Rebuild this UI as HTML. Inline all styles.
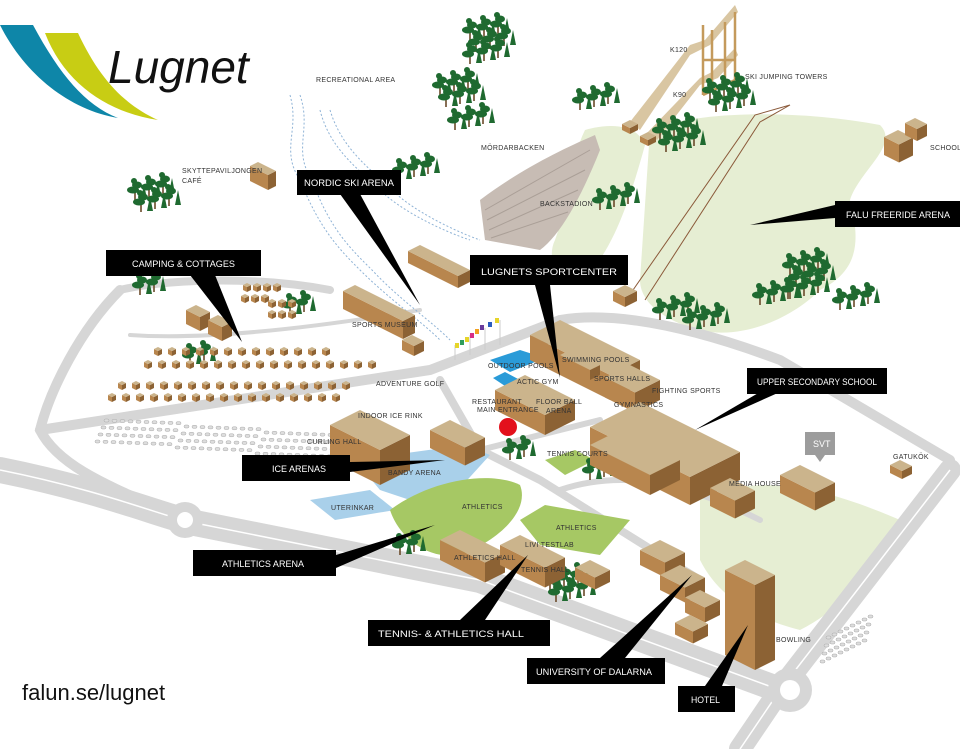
<!DOCTYPE html>
<html><head><meta charset="utf-8"><style>
html,body{margin:0;padding:0;background:#fff;width:960px;height:749px;overflow:hidden}
svg{display:block}
.l{font-family:"Liberation Sans",sans-serif;font-size:7px;fill:#333;letter-spacing:.3px}
.b{font-family:"Liberation Sans",sans-serif;font-size:9px;fill:#fff}
</style></head><body>
<svg id="s" width="960" height="749" viewBox="0 0 960 749" xmlns="http://www.w3.org/2000/svg">
<path d="M0,25 L33,25 C60,75 85,105 118,118 C70,110 25,75 0,25Z" fill="#0e86a8"/>
<path d="M45,33 L78,33 C100,80 125,105 158,120 C110,113 65,85 45,33Z" fill="#c8cd14"/>
<text x="108" y="83" font-family="Liberation Sans,sans-serif" font-style="italic" font-size="46" fill="#111">Lugnet</text>
<text x="22" y="700" font-family="Liberation Sans,sans-serif" font-size="22" fill="#111">falun.se/lugnet</text>

<path d="M650,130 C700,110 800,110 880,125 C900,145 860,170 850,200 C860,240 860,270 820,290 C790,320 740,340 700,330 C660,320 640,300 640,280 Z" fill="#e6eed3"/>
<path d="M585,130 C620,120 640,130 645,145 C630,200 610,260 580,280 C560,290 545,260 555,240 C570,200 570,160 585,130Z" fill="#e6eed3"/>
<path d="M700,500 C760,470 830,490 900,520 C880,570 840,610 800,630 C760,620 720,600 700,560Z" fill="#e6eed3"/>
<path d="M480,200 C520,170 560,150 595,135 L600,150 C580,200 560,235 540,250 L485,240Z" fill="#c7bcb4"/>
<g stroke="#aa9f97" stroke-width="1">
<line x1="485" y1="210" x2="590" y2="150"/><line x1="487" y1="220" x2="585" y2="170"/><line x1="489" y1="230" x2="578" y2="190"/><line x1="491" y1="238" x2="568" y2="212"/></g>

<g fill="none" stroke="#d6d6d6" stroke-linecap="round">
<path d="M0,470 C100,490 160,515 190,522 L480,580 L780,690" stroke-width="26"/>
<path d="M950,470 L780,690 L740,749" stroke-width="22"/>
<path d="M120,290 C80,330 50,390 40,430 C60,470 120,490 190,522" stroke-width="10"/>
<path d="M120,290 C160,280 250,275 330,290" stroke-width="8"/>
<path d="M40,430 L430,370 L560,320 C620,310 700,330 780,360 L950,460" stroke-width="10"/>
<path d="M440,380 L480,450 L540,480 L620,530 L700,580" stroke-width="8"/>
<path d="M480,450 L600,420" stroke-width="6"/>
<path d="M190,522 C250,540 330,560 420,575" stroke-width="6"/>
<path d="M560,490 C620,470 680,480 760,520" stroke-width="6"/>
<path d="M130,335 C200,340 300,330 420,310" stroke-width="4"/>
</g>
<g fill="none" stroke="#fff" stroke-width="1.5">
<path d="M0,470 C100,490 160,515 190,522 L480,580 L780,690"/>
<path d="M950,470 L780,690 L740,749"/>
</g>
<circle cx="185" cy="520" r="18" fill="#d6d6d6"/><circle cx="185" cy="520" r="8" fill="#fff"/>
<circle cx="790" cy="690" r="22" fill="#d6d6d6"/><circle cx="790" cy="690" r="10" fill="#fff"/>

<g fill="none" stroke="#8fb3d6" stroke-width="1" stroke-dasharray="2,2">
<path d="M290,95 C300,130 280,150 300,180 C320,230 340,250 360,270 C390,300 420,320 440,340"/>
<path d="M300,95 C312,130 292,150 312,180 C330,230 352,250 372,270 C400,300 430,320 450,340"/>
<path d="M320,110 C330,150 360,170 380,190 C400,210 440,230 470,240"/>
<path d="M330,110 C342,150 372,170 392,190 C412,210 452,230 480,240"/>
</g>

<polygon points="355,460 465,445 490,455 440,510 380,490" fill="#a9d0ea"/>
<polygon points="310,500 370,490 395,510 335,520" fill="#a9d0ea"/>
<path d="M390,510 C430,480 490,470 520,485 C530,510 500,540 460,555 C430,560 400,540 390,510Z" fill="#a6c864"/>
<polygon points="520,520 545,505 630,520 600,555 540,545" fill="#a6c864"/>
<polygon points="545,460 575,450 595,460 565,475" fill="#a6c864"/>
<polygon points="490,360 520,350 545,358 510,372" fill="#2a9bd8"/>
<polygon points="493,378 505,372 520,380 505,386" fill="#2a9bd8"/>
<g id="ski"></g>
<g id="items"></g>

<g stroke="#ccc" stroke-width="1">
<line x1="455" y1="345" x2="455" y2="360"/><line x1="470" y1="335" x2="470" y2="355"/><line x1="485" y1="328" x2="485" y2="350"/><line x1="500" y1="320" x2="500" y2="345"/></g>
<g><rect x="455" y="343" width="4" height="5" fill="#e6d52a"/><rect x="460" y="340" width="4" height="5" fill="#2f9c5d"/><rect x="465" y="337" width="4" height="5" fill="#e6d52a"/><rect x="470" y="333" width="4" height="5" fill="#d62f85"/><rect x="475" y="329" width="4" height="5" fill="#f2a21e"/><rect x="480" y="325" width="4" height="5" fill="#6a3b9c"/><rect x="488" y="322" width="4" height="5" fill="#2a5cbf"/><rect x="495" y="318" width="4" height="5" fill="#e6d52a"/></g>
<circle cx="508" cy="427" r="9" fill="#e3101c"/>

<text class="l" x="316" y="82" font-size="8">RECREATIONAL AREA</text>
<text class="l" x="182" y="173">SKYTTEPAVILJONGEN</text><text class="l" x="182" y="183">CAFÉ</text>
<text class="l" x="670" y="52">K120</text><text class="l" x="673" y="97">K90</text>
<text class="l" x="745" y="79">SKI JUMPING TOWERS</text>
<text class="l" x="481" y="150">MÖRDARBACKEN</text>
<text class="l" x="540" y="206">BACKSTADION</text>
<text class="l" x="930" y="150">SCHOOL</text>
<text class="l" x="352" y="327">SPORTS MUSEUM</text>
<text class="l" x="488" y="368">OUTDOOR POOLS</text>
<text class="l" x="517" y="384">ACTIC GYM</text>
<text class="l" x="562" y="362">SWIMMING POOLS</text>
<text class="l" x="594" y="381">SPORTS HALLS</text>
<text class="l" x="652" y="393">FIGHTING SPORTS</text>
<text class="l" x="614" y="407">GYMNASTICS</text>
<text class="l" x="376" y="386">ADVENTURE GOLF</text>
<text class="l" x="472" y="404">RESTAURANT</text><text class="l" x="477" y="412">MAIN ENTRANCE</text>
<text class="l" x="536" y="404">FLOOR BALL</text><text class="l" x="546" y="413">ARENA</text>
<text class="l" x="358" y="418">INDOOR ICE RINK</text>
<text class="l" x="307" y="444">CURLING HALL</text>
<text class="l" x="388" y="475">BANDY ARENA</text>
<text class="l" x="547" y="456">TENNIS COURTS</text>
<text class="l" x="331" y="510">UTERINKAR</text>
<text class="l" x="462" y="509">ATHLETICS</text>
<text class="l" x="556" y="530">ATHLETICS</text>
<text class="l" x="525" y="547">LIVI TESTLAB</text>
<text class="l" x="454" y="560">ATHLETICS HALL</text>
<text class="l" x="521" y="572">TENNIS HALL</text>
<text class="l" x="729" y="486">MEDIA HOUSE</text>
<text class="l" x="893" y="459">GATUKÖK</text>
<text class="l" x="776" y="642">BOWLING</text>

<polygon points="805,432 835,432 835,455 825,455 820,462 815,455 805,455" fill="#9c9c9c"/>
<text x="813" y="447" font-family="Liberation Sans,sans-serif" font-size="9" fill="#fff">SVT</text>

<g fill="#000">
<polygon points="340,194 360,194 420,305"/><rect x="297" y="170" width="104" height="25"/>
<polygon points="190,275 215,275 242,342"/><rect x="106" y="250" width="155" height="26"/>
<polygon points="535,285 550,285 560,378"/><rect x="470" y="255" width="158" height="30"/>
<polygon points="835,205 835,218 750,225"/><rect x="835" y="201" width="125" height="26"/>
<polygon points="760,392 780,392 695,430"/><rect x="747" y="368" width="140" height="26"/>
<polygon points="350,462 350,472 445,460"/><rect x="242" y="455" width="108" height="26"/>
<polygon points="336,555 336,568 435,525"/><rect x="193" y="550" width="143" height="26"/>
<polygon points="460,620 485,620 528,555"/><rect x="368" y="620" width="182" height="26"/>
<polygon points="600,658 625,658 692,575"/><rect x="527" y="658" width="138" height="26"/>
<polygon points="705,686 722,686 748,625"/><rect x="678" y="686" width="57" height="26"/>
</g>
<text class="b" x="304" y="186" textLength="90" lengthAdjust="spacingAndGlyphs">NORDIC SKI ARENA</text>
<text class="b" x="132" y="267" textLength="103" lengthAdjust="spacingAndGlyphs">CAMPING &amp; COTTAGES</text>
<text class="b" x="481" y="275" font-size="11" textLength="136" lengthAdjust="spacingAndGlyphs">LUGNETS SPORTCENTER</text>
<text class="b" x="846" y="218" textLength="104" lengthAdjust="spacingAndGlyphs">FALU FREERIDE ARENA</text>
<text class="b" x="757" y="385" textLength="120" lengthAdjust="spacingAndGlyphs">UPPER SECONDARY SCHOOL</text>
<text class="b" x="272" y="472" textLength="54" lengthAdjust="spacingAndGlyphs">ICE ARENAS</text>
<text class="b" x="222" y="567" textLength="82" lengthAdjust="spacingAndGlyphs">ATHLETICS ARENA</text>
<text class="b" x="378" y="637" textLength="146" lengthAdjust="spacingAndGlyphs">TENNIS- &amp; ATHLETICS HALL</text>
<text class="b" x="536" y="675" textLength="116" lengthAdjust="spacingAndGlyphs">UNIVERSITY OF DALARNA</text>
<text class="b" x="691" y="703" textLength="29" lengthAdjust="spacingAndGlyphs">HOTEL</text>
</svg>
<script>
var NS="http://www.w3.org/2000/svg",g=document.getElementById("items"),sk=document.getElementById("ski");
function el(t,a,p){var e=document.createElementNS(NS,t);for(var k in a)e.setAttribute(k,a[k]);(p||g).appendChild(e);return e;}
function box(x,y,w,d,h,c){
 var A=[x,y],B=[x+w,y+w*.5],C=[x+w-d,y+w*.5+d*.5],D=[x-d,y+d*.5];
 function P(a){return a.map(function(p){return p[0]+","+p[1]}).join(" ")}
 el("polygon",{points:P([D,C,[C[0],C[1]+h],[D[0],D[1]+h]]),fill:(c&&c[1])||"#b8864e"});
 el("polygon",{points:P([C,B,[B[0],B[1]+h],[C[0],C[1]+h]]),fill:(c&&c[2])||"#8c6234"});
 el("polygon",{points:P([A,B,C,D]),fill:(c&&c[0])||"#cbb48c"});
}
function tree(x,y){
 el("rect",{x:x-0.8,y:y-2,width:1.6,height:12,fill:"#6b4a2a"});
 el("ellipse",{cx:x-2,cy:y,rx:6,ry:3.5,fill:"#1f6a30"});
 el("ellipse",{cx:x+2,cy:y-5,rx:5,ry:3.5,fill:"#1f6a30"});
 el("ellipse",{cx:x-1,cy:y-9,rx:3,ry:3,fill:"#1f6a30"});
 el("polygon",{points:(x+9)+","+(y-6)+" "+(x+12)+","+(y+9)+" "+(x+6)+","+(y+9),fill:"#1f6a30"});
}
function cluster(x,y,n){for(var i=0;i<n;i++)tree(x+(i%3)*14+((i/3|0)%2)*6,y+(i/3|0)*12-(i%3)*3);}
// ski jumps
el("polygon",{points:"630,122 640,130 690,55 710,45 738,12 735,5 705,40 690,45",fill:"#d9c6a2"},sk);
el("polygon",{points:"647,133 657,140 700,85 718,78 738,55 735,48 712,72 700,78",fill:"#d9c6a2"},sk);
box(630,120,8,8,6);box(648,132,8,8,6);
el("path",{d:"M703,25 L703,95 M735,12 L735,80 M712,30 L712,90 M725,22 L725,85 M703,60 L735,60 M703,95 L735,80",fill:"none",stroke:"#c49a5c","stroke-width":2.5},sk);
el("path",{d:"M633,290 L755,115 L790,105 L760,122 L645,300",fill:"none",stroke:"#8b5a3a","stroke-width":1},sk);
[[470,30,9],[440,85,6],[455,120,3],[580,100,3],[600,200,3],[710,90,6],[660,130,6],[400,170,3],[135,190,6],[140,285,2],[290,305,2],[190,355,2],[510,450,2],[590,470,2],[400,545,2],[550,580,6],[660,310,3],[690,320,3],[790,265,9],[760,295,3],[840,300,3]].forEach(function(c){cluster(c[0],c[1],c[2]);});
// cottages
[[158,350,13],[148,363,17],[122,384,17],[112,396,17]].forEach(function(r){for(var c=0;c<r[2];c++)box(r[0]+c*14,r[1]-3,4,4,5);});
[[247,286,4],[245,297,3],[272,302,3],[272,313,3]].forEach(function(r){for(var c=0;c<r[2];c++)box(r[0]+c*10,r[1]-3,4,4,5);});
for(var r=0;r<4;r++)for(var c=0;c<30;c++)el("rect",{x:95+c*8+r*3,y:440-r*7+c*0.3+(c>9?3:0)+(c>19?3:0),width:5,height:3,rx:1.5,fill:"#ddd",stroke:"#aaa","stroke-width":.5});
for(var r=0;r<4;r++)for(var c=0;c<8;c++)el("rect",{x:820+c*6+r*2,y:660-r*8-c*3,width:5,height:3,rx:1.5,fill:"#ddd",stroke:"#aaa","stroke-width":.5});
box(258,162,18,8,15);box(196,305,14,10,14);box(218,315,14,10,14);
box(420,245,50,12,12);box(355,285,60,12,18);box(412,335,12,10,10);
box(540,330,10,8,8);
box(560,320,80,30,25);box(630,365,30,25,20);box(525,375,50,30,20);box(570,350,30,10,10);
box(360,410,50,30,35);box(450,420,35,20,18);
box(640,402,100,50,28);box(620,430,60,30,20);
box(730,478,25,20,18);box(800,465,35,20,18);box(900,460,12,10,8);
box(898,130,15,14,18);box(915,118,12,10,12);
box(460,530,45,20,20);box(520,535,45,20,20);box(590,560,20,15,12);
box(660,540,25,20,15);box(680,565,25,20,15);box(700,590,20,15,15);box(690,615,18,15,12);
box(745,560,30,20,85);box(625,285,12,12,10);
</script>
</body></html>
